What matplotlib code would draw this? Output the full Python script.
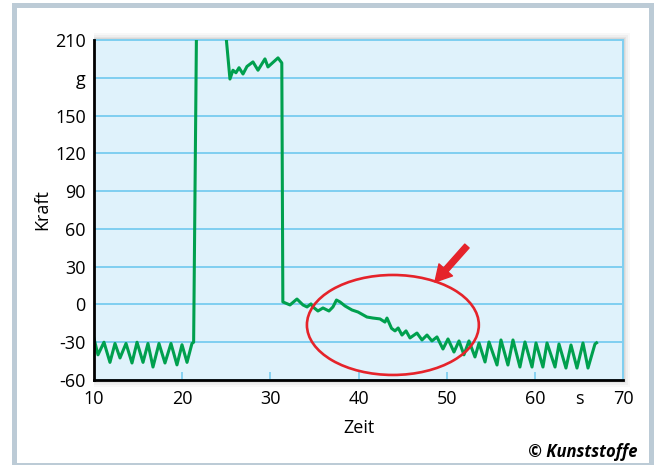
import matplotlib
matplotlib.use("Agg")
import matplotlib.pyplot as plt
from matplotlib.patches import Ellipse, Rectangle

# ---- data ----
zeit = [10.0, 10.45, 11.13, 11.81, 12.38, 12.95, 13.63, 14.31, 14.88, 15.56,
        16.12, 16.69, 17.37, 18.05, 18.73, 19.41, 19.98, 20.55, 21.11, 21.3,
        21.62, 24.95, 25.42, 25.76, 26.1, 26.45, 26.9, 27.35, 28.03, 28.6,
        29.39, 29.73, 30.87, 31.3, 31.42,
        32.23, 33.02, 33.7, 34.16, 34.61, 34.84, 35.4, 35.97, 36.65, 37.1,
        37.5, 37.9, 38.47, 39.26, 39.94, 40.96, 41.64, 42.44, 43.0, 43.23,
        43.75, 44.14, 44.5, 44.93, 45.39, 45.84, 46.63, 47.2, 47.77, 48.33,
        48.9, 49.58, 50.15, 50.83, 51.4, 51.96, 52.53, 53.21, 53.67, 54.35,
        54.8, 55.71, 56.16, 56.95, 57.52, 58.31, 58.88, 59.68, 60.13, 60.92,
        61.38, 62.29, 62.74, 63.53, 64.1, 64.78, 65.46, 66.03, 66.82, 67.0]
kraft = [-27, -40, -30, -46, -31, -42.5, -31, -46.5, -30, -46,
         -31, -49.7, -31, -46.5, -31, -48, -32, -46, -31, -30,
         215, 215, 179, 186, 184, 188, 183, 189, 192.6, 186,
         195, 188.6, 195.8, 191.8, 2,
         -0.4, 4.3, -0.4, -2, 0.4, -2, -5.2, -2.8, -5.2, -2,
         3.5, 2, -1.2, -4.4, -6, -10, -10.8, -11.5, -14, -10.8,
         -19, -21, -18.7, -24.3, -21, -26.6, -22.7, -28.2, -24.3, -29,
         -25.8, -35.4, -27.4, -37.8, -29, -40, -29, -41.7, -30.6, -45.7,
         -29.8, -48.1, -28.2, -48.1, -28.2, -49.7, -29.8, -49.7, -30.6, -49.7,
         -30.6, -49.7, -31.4, -50.5, -32.2, -50.5, -30.6, -50.5, -31.4, -30.5]

x_ticks = [10, 20, 30, 40, 50, 60, 65, 70]
x_tick_labels = ["10", "20", "30", "40", "50", "60", "s", "70"]
y_ticks = [-60, -30, 0, 30, 60, 90, 120, 150, 180, 210]
y_tick_labels = ["-60", "-30", "0", "30", "60", "90", "120", "150", "g", "210"]

# ---- style ----
FONT = ["Open Sans", "DejaVu Sans"]
plt.rcParams["font.family"] = FONT
GREEN = "#00a04e"
RED = "#e5232a"
GRID = "#7fcff0"
FACE = "#dff2fb"
FRAME = "#bccbd6"
FS = 13

W, H = 660, 465
fig = plt.figure(figsize=(W / 100, H / 100), dpi=100)
fig.patch.set_facecolor("white")

# outer frame
fig.patches.append(Rectangle((14 / W, 0 / H), (651 - 14) / W, (459.5) / H,
                             transform=fig.transFigure, fill=False,
                             ec=FRAME, lw=3.6, zorder=-3))

L, R, T, B = 94, 623, 40, 380

# soft drop shadow behind the axes
for pad, a in [(7, 0.04), (5, 0.05), (3, 0.07), (1.5, 0.09)]:
    fig.patches.append(Rectangle(((L) / W, 1 - (B + pad) / H),
                                 (R - L + pad) / W, (B - T + 2 * pad) / H,
                                 transform=fig.transFigure, fc="#555555",
                                 ec="none", alpha=a, zorder=-2))

ax = fig.add_axes([L / W, 1 - B / H, (R - L) / W, (B - T) / H])
ax.set_facecolor(FACE)
ax.set_xlim(10, 70)
ax.set_ylim(-60, 210)

ax.plot(zeit, kraft, color=GREEN, lw=2.2, zorder=3, solid_joinstyle="round")

ax.set_yticks(y_ticks)
ax.set_yticklabels(y_tick_labels)
ax.set_xticks(x_ticks)
ax.set_xticklabels(x_tick_labels)
ax.yaxis.grid(True, color=GRID, lw=1.4, zorder=1)
ax.set_axisbelow(True)
ax.tick_params(axis="y", length=0, pad=6, labelsize=FS)
ax.tick_params(axis="x", direction="in", length=6, width=1.3, color=GRID,
               pad=7, labelsize=FS)
xt = ax.xaxis.get_major_ticks()
for i in (0, 6, 7):
    xt[i].tick1line.set_visible(False)

for s in ("left", "bottom"):
    ax.spines[s].set_color("black")
    ax.spines[s].set_linewidth(2.0)
    ax.spines[s].set_zorder(5)
for s in ("top", "right"):
    ax.spines[s].set_color(GRID)
    ax.spines[s].set_linewidth(1.4)

ax.set_ylabel("Kraft", fontsize=FS)
ax.set_xlabel("Zeit", fontsize=FS)
ax.yaxis.set_label_coords((42 - L) / (R - L), 0.5)
ax.yaxis.label.set_va("center")
ax.xaxis.set_label_coords(0.5, (B - 428) / (B - T))
ax.xaxis.label.set_va("center")

# red ellipse and arrow
ax.add_patch(Ellipse((43.9, -16.3), 19.5, 79.4, fill=False, ec=RED, lw=1.9,
                     zorder=4))
ax.annotate("", xy=(48.67, 17.8), xytext=(52.3, 46.4),
            arrowprops=dict(arrowstyle="simple,head_length=0.9,head_width=1.0,tail_width=0.32",
                            color=RED, shrinkA=0, shrinkB=0,
                            mutation_scale=13), zorder=6)

fig.text(638 / W, 1 - 452 / H, "\u00a9 Kunststoffe", ha="right", va="center",
         fontsize=12, fontweight="bold", style="italic", family=FONT)

fig.savefig("out.png", dpi=100)
